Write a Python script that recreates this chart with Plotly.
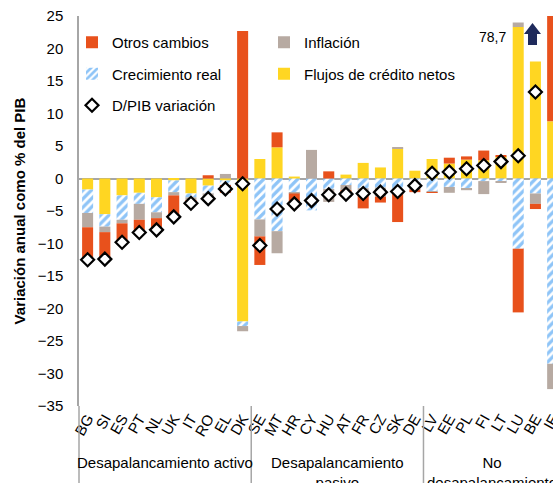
import plotly.graph_objects as go

countries = ["BG","SI","ES","PT","NL","UK","IT","RO","EL","DK",
             "SE","MT","HR","CY","HU","AT","FR","CZ","SK","DE",
             "LV","EE","PL","FI","LT","LU","BE","IE"]

flujos = [-1.7,-5.5,-2.6,-2.2,-2.9,-0.3,-2.3,-1.1,-0.3,-22.0,
          3.0,4.8,0.3,0.0,0.0,0.6,2.4,1.7,4.6,1.2,
          3.0,2.3,2.9,2.8,3.4,23.3,18.0,8.8]
real = [-3.6,-1.9,-3.75,-1.7,-2.3,-1.8,-0.6,-1.2,-0.7,-0.7,
        -6.3,-8.1,-2.1,-4.9,-1.6,-1.0,-1.5,-1.4,-1.9,-1.6,
        -2.0,-1.3,-1.5,-0.4,-0.5,-10.8,-2.3,-28.5]
inflacion = [-2.2,-0.85,-0.55,-2.45,-0.9,-0.5,-0.4,-0.4,0.7,-0.8,
             -2.6,-3.4,-0.2,4.4,-2.0,-0.8,-1.0,-1.4,0.1,-0.1,
             -0.1,-0.9,-0.3,-2.0,-0.1,0.7,-1.6,-3.9]
otros = [-5.0,-4.15,-2.7,-1.9,-1.75,-3.1,-0.5,0.5,-1.2,22.7,
         -4.4,2.3,-1.5,0.0,1.1,-1.0,-2.1,-0.9,-4.8,-0.4,
         -0.1,0.9,0.5,1.5,0.2,-9.8,-0.8,102.3]
dpib = [-12.5,-12.4,-9.8,-8.3,-7.9,-5.9,-3.8,-3.1,-1.6,-0.8,
        -10.3,-4.7,-3.9,-3.4,-2.5,-2.4,-2.3,-2.1,-2.0,-1.1,
        0.8,1.0,1.5,2.0,2.6,3.5,13.3,78.7]

groups = ["Desapalancamiento activo", "Desapalancamiento<br>pasivo", "No<br>desapalancamiento"]
group_centers = [4.5, 14.5, 23.5]
separators = [9.5, 19.5]
ie_label = "78,7"

ORANGE = "#E8511C"
YELLOW = "#FFD622"
GRAY = "#B7AAA2"
BLUE = "#1E8AF0"
FONT = "Liberation Sans, Arial, sans-serif"

x = list(range(len(countries)))

fig = go.Figure()
fig.add_trace(go.Bar(x=x, y=flujos, name="Flujos de crédito netos", marker=dict(color=YELLOW, line=dict(width=0)),
                     legend="legend2", legendgroup="f", legendrank=2))
fig.add_trace(go.Bar(x=x, y=real, name="Crecimiento real",
                     marker=dict(color="white", line=dict(width=0),
                                 pattern=dict(shape="/", fgcolor=BLUE, bgcolor="white", size=6, solidity=0.55)),
                     legend="legend", legendgroup="r", legendrank=2))
fig.add_trace(go.Bar(x=x, y=inflacion, name="Inflación", marker=dict(color=GRAY, line=dict(width=0)),
                     legend="legend2", legendgroup="i", legendrank=1))
fig.add_trace(go.Bar(x=x, y=otros, name="Otros cambios", marker=dict(color=ORANGE, line=dict(width=0)),
                     legend="legend", legendgroup="o", legendrank=1))
fig.add_trace(go.Scatter(x=x, y=dpib, mode="markers", name="D/PIB variación",
                         marker=dict(symbol="diamond", size=10, color="white", line=dict(color="black", width=2.2)),
                         legend="legend", legendgroup="d", legendrank=3))

W, H = 553, 483
L, R, T, B = 79, 0, 16, 77
ph = H - T - B
pw = W - L - R

def px(xp):
    return (xp - L) / pw

def py(yp):
    return (H - B - yp) / ph

shapes = []
shapes.append(dict(type="line", xref="paper", yref="paper", x0=0, x1=0, y0=py(H + 5), y1=0,
                   line=dict(color="#A6A6A6", width=1.5)))
for s in separators:
    shapes.append(dict(type="line", xref="x", yref="paper", x0=s, x1=s, y0=py(H + 5), y1=0,
                       line=dict(color="#A6A6A6", width=1.5)))
path = (f"M {px(528)},{py(45)} L {px(537)},{py(45)} L {px(537)},{py(34)} L {px(541)},{py(34)} "
        f"L {px(532.5)},{py(23)} L {px(524)},{py(34)} L {px(528)},{py(34)} Z")
shapes.append(dict(type="path", xref="paper", yref="paper", path=path,
                   fillcolor="#1F2A5C", line=dict(width=0)))

annotations = []
for g, c in zip(groups, group_centers):
    annotations.append(dict(x=c, y=py(452), xref="x", yref="paper", text=g, showarrow=False,
                            xanchor="center", yanchor="top", font=dict(size=15, color="black", family=FONT)))
annotations.append(dict(x=px(508), y=py(37), xref="paper", yref="paper", text=ie_label, showarrow=False,
                        xanchor="right", yanchor="middle", font=dict(size=14, color="black", family=FONT)))

fig.update_layout(
    width=W, height=H,
    margin=dict(l=L, r=R, t=T, b=B, pad=0),
    paper_bgcolor="white", plot_bgcolor="white",
    barmode="relative", bargap=0.36,
    font=dict(family=FONT, size=15, color="black"),
    shapes=shapes, annotations=annotations,
    legend=dict(x=px(72), y=py(26), xanchor="left", yanchor="top", bgcolor="rgba(0,0,0,0)",
                traceorder="grouped", tracegroupgap=9, font=dict(size=15), itemwidth=30),
    legend2=dict(x=px(264), y=py(26), xanchor="left", yanchor="top", bgcolor="rgba(0,0,0,0)",
                 traceorder="grouped", tracegroupgap=9, font=dict(size=15), itemwidth=30),
    showlegend=True,
)
fig.update_xaxes(range=[-0.5, 27.02], tickmode="array", tickvals=x, ticktext=countries,
                 tickangle=-60, showgrid=False, showline=False, zeroline=False, ticks="",
                 ticklabeloverflow="allow",
                 automargin=False, tickfont=dict(size=15, family=FONT, color="black"))
fig.update_yaxes(range=[-35, 25], dtick=5, showgrid=False, showline=True, linecolor="#A6A6A6", linewidth=1.5,
                 zeroline=True, zerolinecolor="#A6A6A6", zerolinewidth=2,
                 ticks="outside", ticklen=11, tickcolor="rgba(0,0,0,0)",
                 automargin=False, tickfont=dict(size=15, family=FONT, color="black"),
                 title=dict(text="<b>Variación anual como % del PIB</b>", standoff=9,
                            font=dict(size=15, family=FONT, color="black")))

fig.write_html("out.html", config={"displayModeBar": False},
               post_script="document.body.style.margin='0';document.body.style.overflow='hidden';")
